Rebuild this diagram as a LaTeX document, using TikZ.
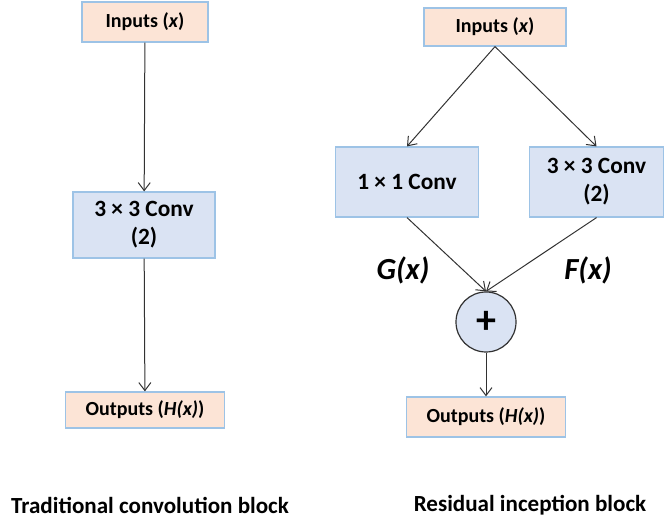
\documentclass[tikz,border=0pt]{standalone}
\usepackage{fontspec}
\setmainfont{Carlito}
\usetikzlibrary{arrows.meta,positioning}
\definecolor{peach}{RGB}{252,228,214}
\definecolor{paleblue}{RGB}{218,227,243}
\definecolor{edgeblue}{RGB}{157,195,230}
\definecolor{linegray}{RGB}{50,50,50}
\begin{document}
\begin{tikzpicture}[x=0.75pt,y=-0.75pt,
    boxtext/.style={font=\bfseries\fontsize{15}{18}\selectfont,align=center,inner sep=0pt},
    iobox/.style={boxtext,draw=edgeblue,fill=peach,rectangle,line width=0.9pt},
    convbox/.style={boxtext,font=\bfseries\fontsize{17.5}{21}\selectfont,draw=edgeblue,fill=paleblue,rectangle,line width=0.9pt},
    sumnode/.style={draw=linegray,fill=paleblue,circle,minimum size=45pt,inner sep=0pt,line width=0.9pt,font=\bfseries\fontsize{30}{30}\selectfont},
    flow/.style={draw=linegray,line width=0.75pt,-{Straight Barb[length=6pt,width=9pt]}},
    funclabel/.style={font=\bfseries\itshape\fontsize{23}{26}\selectfont},
    caption/.style={font=\bfseries\fontsize{17.3}{20}\selectfont}]
    \useasboundingbox (0,0) rectangle (665,520);

    % traditional block
    \node[iobox,minimum width=94.5pt,minimum height=30pt] (inL) at (145,22) {Inputs (\textit{x})};
    \node[convbox,minimum width=106.5pt,minimum height=49.5pt] (convL) at (144,225) {3 × 3 Conv\\(2)};
    \node[iobox,minimum width=119pt,minimum height=27pt] (outL) at (145,410) {Outputs (\textit{H(x)})};

    \draw[flow] (inL) -- (convL);
    \draw[flow] (convL) -- (outL);

    % residual inception block
    \node[iobox,minimum width=106.5pt,minimum height=28.5pt] (inR) at (495,27) {Inputs (\textit{x})};
    \node[convbox,minimum width=107pt,minimum height=52.5pt] (convA) at (407,182) {1 × 1 Conv};
    \node[convbox,minimum width=101pt,minimum height=52.5pt] (convB) at (596.5,182) {3 × 3 Conv\\(2)};
    \node[sumnode] (sum) at (486,322) {+};
    \node[iobox,minimum width=119pt,minimum height=30pt] (outR) at (486,417) {Outputs (\textit{H(x)})};

    \draw[flow] (inR.south) -- (convA.north);
    \draw[flow] (inR.south) -- (convB.north);
    \draw[flow] (convA.south) -- (sum.north);
    \draw[flow] (convB.south) -- (sum.north);
    \draw[flow] (sum) -- (outR);

    \node[funclabel] (gx) at (403,270) {G(x)};
    \node[funclabel] (fx) at (588,270) {F(x)};

    \node[caption] (capL) at (150,505) {Traditional convolution block};
    \node[caption] (capR) at (530,505) {Residual inception block};
\end{tikzpicture}
\end{document}
